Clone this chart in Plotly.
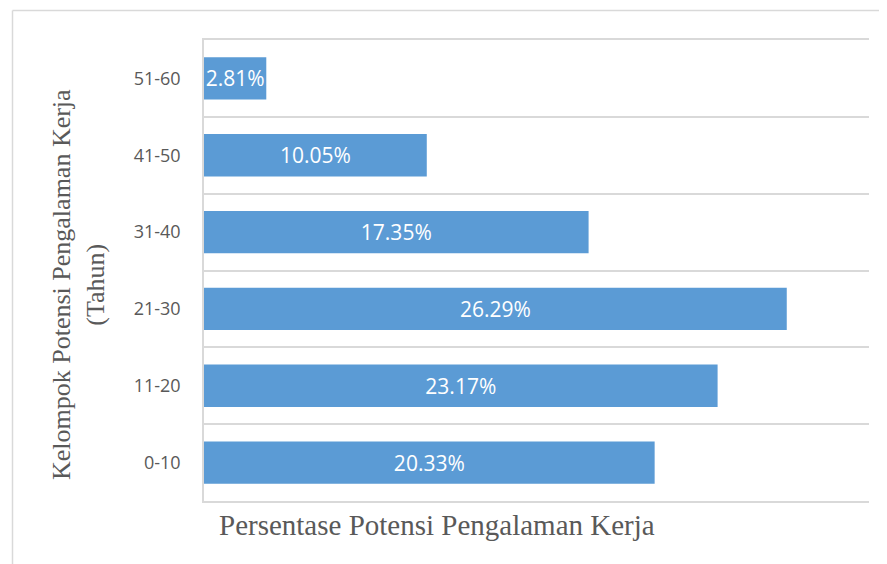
import plotly.graph_objects as go

# data
kelompok = ["0-10", "11-20", "21-30", "31-40", "41-50", "51-60"]
persen = [20.33, 23.17, 26.29, 17.35, 10.05, 2.81]
label = ["20.33%", "23.17%", "26.29%", "17.35%", "10.05%", "2.81%"]

# page body adds an 8px offset, so margins are compensated
W, H = 887, 564
ml, mr, mt, mb = 196, 26, 32, 71
pw, ph = W - ml - mr, H - mt - mb
grey = "#d9d9d9"
txt = "#595959"

fig = go.Figure()
fig.add_trace(
    go.Bar(
        x=persen,
        y=kelompok,
        orientation="h",
        marker=dict(color="#5b9bd5", line=dict(width=0)),
        text=label,
        textposition="inside",
        insidetextanchor="middle",
        textangle=0,
        constraintext="none",
        textfont=dict(family="Open Sans", size=21, color="white"),
        showlegend=False,
    )
)

# outer frame (light grey)
fx0 = (4.5 - ml) / pw
fy0 = (H - mb - 2.5) / ph
fig.add_shape(type="line", xref="paper", yref="paper", x0=fx0, x1=(W - ml) / pw,
              y0=fy0, y1=fy0, line=dict(color=grey, width=1.5))
fig.add_shape(type="line", xref="paper", yref="paper", x0=fx0, x1=fx0,
              y0=fy0, y1=(-mb) / ph, line=dict(color=grey, width=1.5))

# axis titles as annotations so they sit where the original puts them
fig.add_annotation(
    text="Persentase Potensi Pengalaman Kerja",
    xref="paper", yref="paper",
    x=(429 - ml) / pw, y=-24 / ph,
    xanchor="center", yanchor="middle",
    showarrow=False,
    font=dict(family="Liberation Serif", size=29, color=txt),
)
fig.add_annotation(
    text="Kelompok Potensi Pengalaman Kerja<br>(Tahun)",
    xref="paper", yref="paper",
    x=(70 - ml) / pw, y=(H - mb - 277) / ph,
    xanchor="center", yanchor="middle",
    textangle=-90,
    showarrow=False,
    font=dict(family="Liberation Serif", size=26, color=txt),
)

fig.update_layout(
    width=W,
    height=H,
    margin=dict(l=ml, r=mr, t=mt, b=mb),
    paper_bgcolor="white",
    plot_bgcolor="white",
    bargap=0.45,
    xaxis=dict(
        range=[0, 30],
        showgrid=False,
        zeroline=False,
        showticklabels=False,
        showline=True,
        mirror=True,
        linecolor=grey,
        linewidth=1.5,
    ),
    yaxis=dict(
        type="category",
        tickson="boundaries",
        showgrid=True,
        gridcolor=grey,
        gridwidth=1.5,
        showline=True,
        linecolor=grey,
        linewidth=1.5,
        ticks="",
        ticklabelstandoff=18,
        tickfont=dict(family="Open Sans", size=18, color=txt),
    ),
)

fig.write_html("out.html")
